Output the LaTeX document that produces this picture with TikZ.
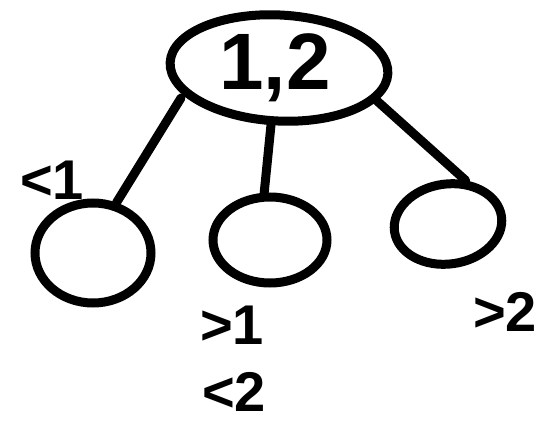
\documentclass[tikz,border=0pt]{standalone}
\usepackage{fontspec}
\setsansfont{Liberation Sans}
\usetikzlibrary{shapes.geometric}
\begin{document}
\begin{tikzpicture}[x=1pt,y=-1pt,
  bnode/.style={ellipse,draw=black,line width=9pt,inner sep=0pt},
  link/.style={draw=black,line width=9pt,line cap=round},
  lbl/.style={font=\sffamily\bfseries\fontsize{56}{56}\selectfont,inner sep=0pt}]
\useasboundingbox (0,0) rectangle (555,428);
\node[bnode,minimum width=218pt,minimum height=106pt,rotate=-3] (root) at (279,68) {};
\node[font=\sffamily\bfseries\fontsize{80}{80}\selectfont,inner sep=0pt] (keys) at (275,68) {1,2};
\node[bnode,minimum width=116pt,minimum height=100pt] (c1) at (93,253) {};
\node[bnode,minimum width=114pt,minimum height=86pt] (c2) at (270,240) {};
\node[bnode,minimum width=108pt,minimum height=80pt,rotate=8] (c3) at (448,224) {};
\coordinate (r1) at (181,98);
\coordinate (r3) at (376,100);
\draw[link] (r1) -- (c1.65);
\draw[link] (root.265) -- (c2.97);
\draw[link] (r3) -- (c3.60);
\node[lbl] (l1) at (52,180) {<1};
\node[lbl] (l2a) at (232,325) {>1};
\node[lbl] (l2b) at (234,392) {<2};
\node[lbl] (l3) at (505,312) {>2};
\end{tikzpicture}
\end{document}
